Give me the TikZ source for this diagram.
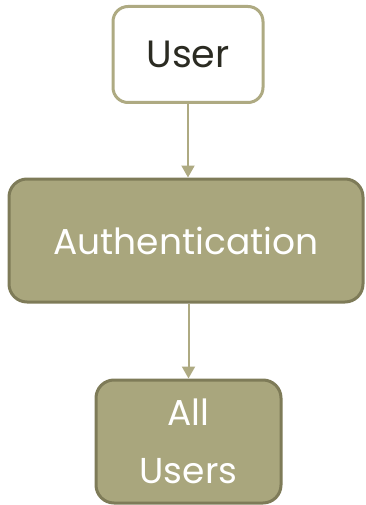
\documentclass[tikz,border=0pt]{standalone}
\usepackage{fontspec}
\setmainfont{Poppins}
\usetikzlibrary{arrows.meta}
\definecolor{olivefill}{HTML}{A9A67D}
\definecolor{olivedark}{HTML}{7E7B58}
\definecolor{oliveline}{HTML}{AEAA82}
\definecolor{textdark}{HTML}{2B2B22}
\tikzset{
  x=1pt,y=-1pt,
  whitebox/.style={draw=oliveline,line width=3pt,fill=white,rounded corners=15pt,text=textdark},
  filledbox/.style={draw=olivedark,line width=3pt,fill=olivefill,rounded corners=18pt,text=white},
  conn/.style={draw=oliveline,line width=2pt,-{Triangle[length=12pt,width=13pt]}}
}
\begin{document}
\begin{tikzpicture}
\useasboundingbox (0,0) rectangle (366,505);
\node[whitebox,minimum width=150pt,minimum height=96pt,font=\fontsize{38}{44}\selectfont] (user) at (188,54.5) {User};
\node[filledbox,minimum width=354pt,minimum height=123pt,font=\fontsize{36}{44}\selectfont] (auth) at (186,240.5) {Authentication};
\node[filledbox,minimum width=185pt,minimum height=123pt,align=center,font=\fontsize{36}{58}\selectfont] (all) at (188.5,441.5) {All\\Users};
\draw[conn] (user.south) -- (user.south |- auth.north);
\draw[conn] (auth.south -| all.north) -- (all.north);
\end{tikzpicture}
\end{document}
